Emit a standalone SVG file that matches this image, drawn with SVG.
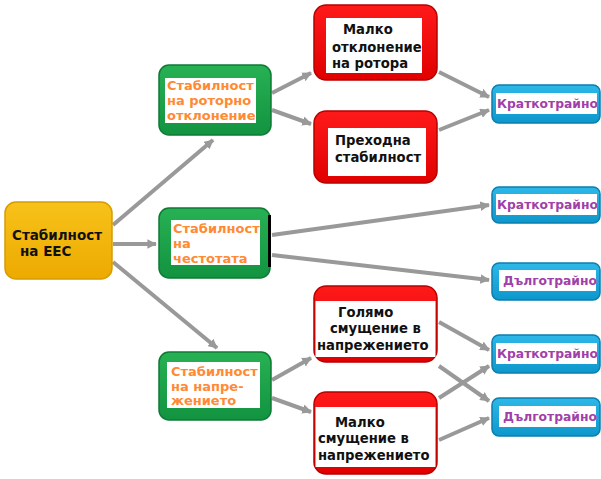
<svg xmlns="http://www.w3.org/2000/svg" width="601" height="479" viewBox="0 0 601 479">
<defs>
<linearGradient id="gy" x1="0" y1="0" x2="0" y2="1"><stop offset="0" stop-color="#F7C21A"/><stop offset="1" stop-color="#EDAA00"/></linearGradient>
<linearGradient id="gg" x1="0" y1="0" x2="0" y2="1"><stop offset="0" stop-color="#28B154"/><stop offset="1" stop-color="#129340"/></linearGradient>
<linearGradient id="gr" x1="0" y1="0" x2="0" y2="1"><stop offset="0" stop-color="#FF1A1A"/><stop offset="1" stop-color="#E00000"/></linearGradient>
<linearGradient id="gb" x1="0" y1="0" x2="0" y2="1"><stop offset="0" stop-color="#2DB8E8"/><stop offset="1" stop-color="#0E97CC"/></linearGradient>
<marker id="ah" viewBox="0 0 10 10" refX="9" refY="5" markerWidth="2.4" markerHeight="2.4" orient="auto" markerUnits="strokeWidth">
<path d="M0,0 L10,5 L0,10 z" fill="#999"/>
</marker>
</defs>
<style>
.c line{stroke:#999;stroke-width:4;marker-end:url(#ah)}
text{font-family:"DejaVu Sans","Liberation Sans",sans-serif;font-weight:bold}
.y{fill:url(#gy);stroke:#D89C00;stroke-width:1.5}
.g{fill:url(#gg);stroke:#0E7A34;stroke-width:1.5}
.r{fill:url(#gr);stroke:#B80000;stroke-width:1.5}
.b{fill:url(#gb);stroke:#0B7FAE;stroke-width:1.5}
.w{fill:#fff}
.tk{fill:#111;font-size:13.5px}
.tg{fill:#FF8A33;font-size:13px}
.tr{fill:#111;font-size:13.2px}
.tb{fill:#A040A8;font-size:12.3px}
</style>
<g class="c">
<line x1="113" y1="225" x2="213" y2="140"/>
<line x1="113" y1="244" x2="156" y2="244"/>
<line x1="113" y1="262" x2="217" y2="348"/>
<line x1="272" y1="93" x2="311" y2="73"/>
<line x1="272" y1="110" x2="311" y2="124"/>
<line x1="439" y1="72" x2="489" y2="97"/>
<line x1="439" y1="130" x2="489" y2="110"/>
<line x1="272" y1="235" x2="489" y2="205"/>
<line x1="272" y1="255" x2="489" y2="280"/>
<line x1="272" y1="380" x2="311" y2="358"/>
<line x1="272" y1="398" x2="311" y2="412"/>
<line x1="439" y1="322" x2="489" y2="350"/>
<line x1="439" y1="366" x2="489" y2="401"/>
<line x1="439" y1="398" x2="489" y2="366"/>
<line x1="439" y1="440" x2="489" y2="418"/>
</g>
<g id="main">
<rect class="y" x="5" y="202" width="107" height="77" rx="11"/>
<text class="tk" x="12" y="240">Стабилност</text>
<text class="tk" x="20" y="256">на ЕЕС</text>
</g>
<g id="g1">
<rect class="g" x="159" y="65" width="112" height="70" rx="10"/>
<rect class="w" x="165" y="78" width="91" height="45"/>
<text class="tg" x="167" y="90">Стабилност</text>
<text class="tg" x="167" y="105">на роторно</text>
<text class="tg" x="167" y="120">отклонение</text>
</g>
<g id="g2">
<rect class="g" x="159" y="208" width="111" height="70" rx="10"/>
<rect class="w" x="171" y="220" width="89" height="45"/>
<rect x="268" y="215" width="3" height="52" fill="#000"/>
<text class="tg" x="173" y="233">Стабилност</text>
<text class="tg" x="173" y="248">на</text>
<text class="tg" x="173" y="263">честотата</text>
</g>
<g id="g3">
<rect class="g" x="159" y="352" width="112" height="68" rx="10"/>
<rect class="w" x="167" y="362" width="93" height="46"/>
<text class="tg" x="171" y="376">Стабилност</text>
<text class="tg" x="171" y="391">на напре-</text>
<text class="tg" x="171" y="405">жението</text>
</g>
<g id="r1">
<rect class="r" x="314" y="5" width="123" height="75" rx="12"/>
<rect class="w" x="326" y="18" width="96" height="55"/>
<text class="tr" x="343" y="34">Малко</text>
<text class="tr" x="332" y="52">отклонение</text>
<text class="tr" x="332" y="68">на ротора</text>
</g>
<g id="r2">
<rect class="r" x="314" y="111" width="123" height="72" rx="12"/>
<rect class="w" x="328" y="128" width="98" height="48"/>
<text class="tr" x="335" y="145">Преходна</text>
<text class="tr" x="335" y="162">стабилност</text>
</g>
<g id="r3">
<rect class="r" x="314" y="286" width="123" height="76" rx="12"/>
<rect class="w" x="315.5" y="301" width="120" height="56"/>
<text class="tr" x="338" y="317">Голямо</text>
<text class="tr" x="330" y="333">смущение в</text>
<text class="tr" x="317" y="350">напрежението</text>
</g>
<g id="r4">
<rect class="r" x="314" y="392" width="123" height="82" rx="12"/>
<rect class="w" x="315.5" y="407" width="120" height="60"/>
<text class="tr" x="335" y="427">Малко</text>
<text class="tr" x="318" y="443">смущение в</text>
<text class="tr" x="318" y="460">напрежението</text>
</g>
<g id="b1">
<rect class="b" x="492" y="85" width="108" height="38" rx="7"/>
<rect class="w" x="496" y="93" width="101" height="21"/>
<text class="tb" x="497" y="108">Краткотрайно</text>
</g>
<g id="b2">
<rect class="b" x="492" y="187" width="108" height="36" rx="7"/>
<rect class="w" x="496" y="194" width="101" height="21"/>
<text class="tb" x="497" y="209">Краткотрайно</text>
</g>
<g id="b3">
<rect class="b" x="492" y="263" width="108" height="37" rx="7"/>
<rect class="w" x="499" y="270" width="97" height="21"/>
<text class="tb" x="503" y="285">Дълготрайно</text>
</g>
<g id="b4">
<rect class="b" x="492" y="335" width="108" height="38" rx="7"/>
<rect class="w" x="496" y="343" width="101" height="21"/>
<text class="tb" x="497" y="358">Краткотрайно</text>
</g>
<g id="b5">
<rect class="b" x="492" y="398" width="108" height="38" rx="7"/>
<rect class="w" x="499" y="406" width="97" height="21"/>
<text class="tb" x="503" y="421">Дълготрайно</text>
</g>
</svg>
